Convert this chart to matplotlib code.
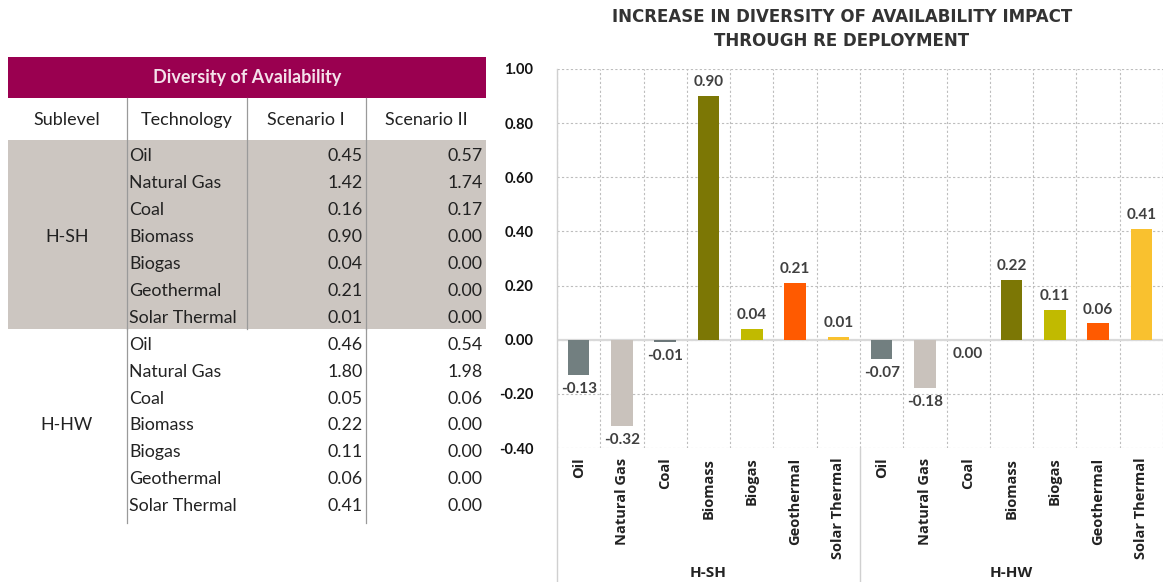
import numpy as np
import matplotlib
matplotlib.use("Agg")
import matplotlib.pyplot as plt
from matplotlib.patches import Rectangle

# ---- data ----
technologies = ["Oil", "Natural Gas", "Coal", "Biomass", "Biogas", "Geothermal", "Solar Thermal"]
sublevels = ["H-SH", "H-HW"]
tech_colors = ["#727F80", "#C9C2BC", "#6C7779", "#7C7705", "#C1BA00", "#FF5A00", "#F9C12F"]

scenario1_hsh = [0.45, 1.42, 0.16, 0.90, 0.04, 0.21, 0.01]
scenario2_hsh = [0.57, 1.74, 0.17, 0.00, 0.00, 0.00, 0.00]
scenario1_hhw = [0.46, 1.80, 0.05, 0.22, 0.11, 0.06, 0.41]
scenario2_hhw = [0.54, 1.98, 0.06, 0.00, 0.00, 0.00, 0.00]

increase_hsh = [-0.13, -0.32, -0.01, 0.90, 0.04, 0.21, 0.01]
increase_hhw = [-0.07, -0.18, 0.00, 0.22, 0.11, 0.06, 0.41]

y_ticks = [-0.40, -0.20, 0.00, 0.20, 0.40, 0.60, 0.80, 1.00]

table_title = "Diversity of Availability"
column_headers = ["Sublevel", "Technology", "Scenario I", "Scenario II"]
chart_title = "INCREASE IN DIVERSITY OF AVAILABILITY IMPACT\nTHROUGH RE DEPLOYMENT"

W, H = 1163, 582
fig = plt.figure(figsize=(W / 100, H / 100), dpi=100)
fig.patch.set_facecolor("white")

FONT = "Lato"
TXT = "#222222"

# ---- table (pixel coordinate canvas) ----
tb = fig.add_axes([0, 0, 1, 1])
tb.set_xlim(0, W)
tb.set_ylim(H, 0)
tb.axis("off")

left, right = 8, 486
col_x = [127, 247, 366]
tb.add_patch(Rectangle((left, 57), right - left, 41, facecolor="#9A0050", edgecolor="none"))
tb.text((left + right) / 2, 78, table_title, ha="center", va="center",
        fontsize=13, fontweight="bold", color="#F4E1EA", family=FONT)

hdr_centers = [67, 187, 306, 426]
for cx, label in zip(hdr_centers, column_headers):
    tb.text(cx, 120, label, ha="center", va="center", fontsize=13, color=TXT, family=FONT)

row_top, pitch = 143, 26.9
n = len(technologies)
gray_bottom = 142 + n * pitch - 1
tb.add_patch(Rectangle((left, 140), right - left, gray_bottom - 140,
                       facecolor="#CCC6C1", edgecolor="none"))

line_c = "#9A9A9A"
for x in col_x:
    tb.plot([x, x], [98, gray_bottom], color=line_c, lw=0.9)
table_bottom = 142 + 2 * n * pitch + 4
for x in (col_x[0], col_x[2]):
    tb.plot([x, x], [gray_bottom, table_bottom], color=line_c, lw=0.9)

rows = [(sublevels[0], scenario1_hsh, scenario2_hsh), (sublevels[1], scenario1_hhw, scenario2_hhw)]
for g, (sub, s1, s2) in enumerate(rows):
    base = row_top + g * n * pitch
    tb.text(67, base + n * pitch / 2, sub, ha="center", va="center",
            fontsize=12.8, color=TXT, family=FONT)
    for i, tech in enumerate(technologies):
        cy = base + (i + 0.5) * pitch
        tb.text(129, cy, tech, ha="left", va="center", fontsize=12.8, color=TXT, family=FONT)
        tb.text(363, cy, f"{s1[i]:.2f}", ha="right", va="center", fontsize=12.8, color=TXT, family=FONT)
        tb.text(483, cy, f"{s2[i]:.2f}", ha="right", va="center", fontsize=12.8, color=TXT, family=FONT)

# ---- bar chart ----
ax_l, ax_r, ax_t, ax_b = 557, 1163, 69, 448
ax = fig.add_axes([ax_l / W, 1 - ax_b / H, (ax_r - ax_l) / W, (ax_b - ax_t) / H])
ax.set_facecolor("none")

values = increase_hsh + increase_hhw
labels = technologies + technologies
colors = tech_colors + tech_colors
x = np.arange(len(values))

ax.bar(x, values, width=0.5, color=colors, zorder=3)
ax.set_xlim(-0.5, len(values) - 0.5)
ax.set_ylim(y_ticks[0], y_ticks[-1])
ax.set_yticks(y_ticks)
ax.set_yticklabels([f"{v:.2f}" for v in y_ticks], fontsize=10.5, fontweight="bold",
                   family=FONT, color="#111111")
ax.tick_params(axis="y", length=0, pad=17)

ax.set_xticks(x)
ax.set_xticklabels(labels, rotation=90, fontsize=10.5, fontweight="bold",
                   family="Open Sans", color=TXT, va="top")
ax.tick_params(axis="x", length=0, pad=7)

ax.set_xticks(np.arange(-0.5, len(values), 1), minor=True)
ax.tick_params(axis="x", which="minor", length=0)
ax.grid(True, axis="y", linestyle=(0, (2, 2)), color="#BDBDBD", lw=0.8, zorder=0)
ax.grid(True, axis="x", which="minor", linestyle=(0, (2, 2)), color="#BDBDBD", lw=0.8, zorder=0)
ax.axhline(0, color="#D9D9D9", lw=1.6, zorder=2)
for s in ax.spines.values():
    s.set_visible(False)

# value labels
for xi, v in zip(x, values):
    if v > 0:
        ax.annotate(f"{v:.2f}", (xi, v), xytext=(0, 5), textcoords="offset points",
                    ha="center", va="bottom", fontsize=11, fontweight="bold",
                    color="#404040", family=FONT, zorder=4)
    else:
        ax.annotate(f"{v:.2f}", (xi, v), xytext=(0, -5), textcoords="offset points",
                    ha="center", va="top", fontsize=11, fontweight="bold",
                    color="#404040", family=FONT, zorder=4)

# group separators and labels below the category axis
xt = ax.get_xaxis_transform()
below = -(H - ax_b) / (ax_b - ax_t)
ax.plot([-0.5, -0.5], [1, below], transform=xt, color="#D0D0D0", lw=1, clip_on=False)
ax.plot([6.5, 6.5], [0, below], transform=xt, color="#D0D0D0", lw=1, clip_on=False)
for g, sub in enumerate(sublevels):
    ax.text(g * 7 + 3, -(573 - ax_b) / (ax_b - ax_t), sub, transform=xt, ha="center", va="center",
            fontsize=11, fontweight="bold", family="Open Sans", color=TXT)

fig.text(842 / W, 1 - 29 / H, chart_title, ha="center", va="center", fontsize=12,
         fontweight="bold", family="DejaVu Sans", color="#333333", linespacing=1.5)

fig.savefig("out.png", dpi=100, facecolor="white")
